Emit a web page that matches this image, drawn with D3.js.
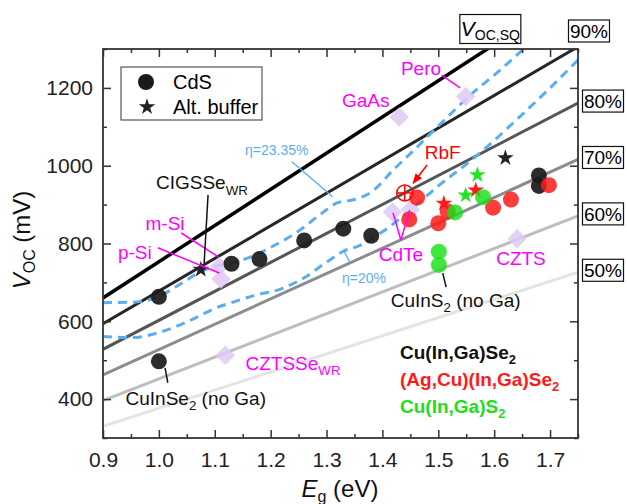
<!DOCTYPE html>
<html>
<head>
<meta charset="utf-8">
<script src="https://cdn.jsdelivr.net/npm/d3@7"></script>
<style>
  body { margin: 0; background: #fff; }
  text { font-family: "Liberation Sans", Arial, sans-serif; }
</style>
</head>
<body>
<svg id="chart" width="627" height="504"></svg>
<script>
// ---- data ----
// Voc limit lines: Voc,SQ and fractions of it, endpoints at Eg = 0.9 and 1.75 eV
const limitE = [0.9, 1.75];
const limitNames = ["SQ", "90%", "80%", "70%", "60%", "50%"];
const limitStartV = [660, 594, 528, 462, 396, 330];
const limitEndV = [1451, 1306, 1161, 1016, 871, 726];

// iso-efficiency curves
const etaHighE = [0.90, 0.95, 0.98, 1.00, 1.04, 1.075, 1.10, 1.13, 1.16, 1.20, 1.25, 1.29, 1.32, 1.35, 1.38, 1.42, 1.46, 1.50, 1.56, 1.61, 1.66];
const etaHighV = [648, 649, 654, 664, 697, 728, 741, 750, 763, 790, 832, 876, 905, 913, 932, 990, 1045, 1102, 1185, 1245, 1310];
const etaLowE = [0.90, 0.95, 1.00, 1.04, 1.07, 1.10, 1.13, 1.17, 1.22, 1.26, 1.30, 1.33, 1.36, 1.40, 1.45, 1.50, 1.56, 1.60, 1.64, 1.70, 1.75];
const etaLowV = [561, 558, 571, 592, 612, 633, 648, 666, 684, 712, 752, 780, 795, 830, 886, 948, 1015, 1065, 1118, 1200, 1272];

// Cu(In,Ga)Se2, CdS buffer
const cigseE = [1.00, 1.00, 1.13, 1.18, 1.26, 1.33, 1.38, 1.68, 1.68];
const cigseV = [663, 497, 748, 760, 808, 838, 820, 975, 948];
// Cu(In,Ga)Se2, alternative buffer
const cigseAltE = [1.075, 1.62];
const cigseAltV = [733, 1020];
// (Ag,Cu)(In,Ga)Se2
const acigsE = [1.462, 1.448, 1.50, 1.517, 1.598, 1.630, 1.698];
const acigsV = [918, 862, 852, 882, 892, 913, 950];
const acigsAltE = [1.510, 1.567];
const acigsAltV = [903, 937];
const rbfE = [1.44];
const rbfV = [930];
// Cu(In,Ga)S2
const cigsE = [1.530, 1.580, 1.501, 1.501];
const cigsV = [880, 919, 779, 745];
const cigsAltE = [1.570, 1.549];
const cigsAltV = [976, 924];
// other technologies
const otherNames = ["GaAs", "Pero", "m-Si", "p-Si", "CdTe", "CdTe", "CZTS", "CZTSSe"];
const otherE = [1.43, 1.549, 1.108, 1.111, 1.418, 1.450, 1.641, 1.119];
const otherV = [1125, 1178, 741, 709, 881, 887, 812, 513];

const xMajor = [0.9, 1.0, 1.1, 1.2, 1.3, 1.4, 1.5, 1.6, 1.7];
const xMinor = [0.95, 1.05, 1.15, 1.25, 1.35, 1.45, 1.55, 1.65, 1.75];
const yMajor = [400, 600, 800, 1000, 1200];
const yMinor = [300, 500, 700, 900, 1100, 1300];

// ---- setup ----
let svg = d3.select("#chart");
const x = d3.scaleLinear().domain([0.9, 1.75]).range([103, 578]);
const y = d3.scaleLinear().domain([300, 1300]).range([438, 49]);
const axisColor = "#333";

let defs = svg.append("defs");
defs.append("clipPath").attr("id", "plotClip").append("rect")
    .attr("x", 103).attr("y", 49).attr("width", 475).attr("height", 389);
defs.append("marker").attr("id", "arrowRed")
    .attr("viewBox", "0 0 10 10").attr("refX", 9).attr("refY", 5)
    .attr("markerWidth", 7).attr("markerHeight", 7).attr("orient", "auto")
    .append("path").attr("d", "M0,1 L10,5 L0,9 Z").attr("fill", "red");

//? limit lines
const limitColors = ["#000", "#262626", "#555", "#8c8c8c", "#bebebe", "#e4e4e4"];
let lines = svg.append("g").attr("clip-path", "url(#plotClip)");
for (let i = limitNames.length - 1; i >= 0; i--) {
    lines.append("line")
        .attr("x1", x(limitE[0])).attr("y1", y(limitStartV[i]))
        .attr("x2", x(limitE[1])).attr("y2", y(limitEndV[i]))
        .attr("stroke", limitColors[i])
        .attr("stroke-width", i === 0 ? 3.5 : 3);
}

//? dashed iso-efficiency curves
let dashLine = d3.line().x(d => x(d[0])).y(d => y(d[1])).curve(d3.curveMonotoneX);
[[etaHighE, etaHighV], [etaLowE, etaLowV]].forEach(function (c) {
    lines.append("path")
        .attr("d", dashLine(c[0].map((e, i) => [e, c[1][i]])))
        .attr("fill", "none")
        .attr("stroke", "#5aaef0")
        .attr("stroke-width", 3)
        .attr("stroke-dasharray", "9,6");
});

//? axes (ticks pointing inward)
function styleAxis(g) {
    g.select(".domain").remove();
    g.selectAll(".tick line").attr("stroke", axisColor).attr("stroke-width", 1.5);
    g.selectAll(".tick text").attr("fill", "#222").style("font-size", "21px")
        .style("font-family", "'Liberation Sans', Arial, sans-serif");
}
svg.append("g").attr("transform", "translate(0,438)")
    .call(d3.axisBottom(x).tickValues(xMajor).tickSize(-8).tickPadding(14).tickFormat(d3.format(".1f")))
    .call(styleAxis);
svg.append("g").attr("transform", "translate(0,438)")
    .call(d3.axisBottom(x).tickValues(xMinor).tickSize(-4).tickFormat(""))
    .call(styleAxis);
svg.append("g").attr("transform", "translate(0,49)")
    .call(d3.axisTop(x).tickValues(xMajor).tickSize(-8).tickFormat(""))
    .call(styleAxis);
svg.append("g").attr("transform", "translate(0,49)")
    .call(d3.axisTop(x).tickValues(xMinor).tickSize(-4).tickFormat(""))
    .call(styleAxis);
svg.append("g").attr("transform", "translate(103,0)")
    .call(d3.axisLeft(y).tickValues(yMajor).tickSize(-8).tickPadding(10).tickFormat(d3.format("d")))
    .call(styleAxis);
svg.append("g").attr("transform", "translate(103,0)")
    .call(d3.axisLeft(y).tickValues(yMinor).tickSize(-4).tickFormat(""))
    .call(styleAxis);
svg.append("g").attr("transform", "translate(578,0)")
    .call(d3.axisRight(y).tickValues(yMajor).tickSize(-8).tickFormat(""))
    .call(styleAxis);
svg.append("g").attr("transform", "translate(578,0)")
    .call(d3.axisRight(y).tickValues(yMinor).tickSize(-4).tickFormat(""))
    .call(styleAxis);

svg.append("rect").attr("x", 103).attr("y", 49).attr("width", 475).attr("height", 389)
    .attr("fill", "none").attr("stroke", axisColor).attr("stroke-width", 1.8);

//? axis titles
let yTitle = svg.append("text").attr("transform", "translate(30,240) rotate(-90)")
    .attr("text-anchor", "middle").style("font-size", "24px").attr("fill", "#111");
yTitle.append("tspan").style("font-style", "italic").text("V");
yTitle.append("tspan").attr("dy", 5).style("font-size", "16px").text("OC");
yTitle.append("tspan").attr("dy", -5).text(" (mV)");

let xTitle = svg.append("text").attr("x", 340).attr("y", 497)
    .attr("text-anchor", "middle").style("font-size", "24px").attr("fill", "#111");
xTitle.append("tspan").style("font-style", "italic").text("E");
xTitle.append("tspan").attr("dy", 5).style("font-size", "16px").text("g");
xTitle.append("tspan").attr("dy", -5).text(" (eV)");

//? line labels outside the frame
function labelBox(cx, cy, w, h) {
    return svg.append("rect").attr("x", cx - w / 2).attr("y", cy - h / 2)
        .attr("width", w).attr("height", h)
        .attr("fill", "#fff").attr("stroke", "#111").attr("stroke-width", 1.2);
}
let eTop = limitE[0] + (1300 - limitStartV[0]) / (limitEndV[0] - limitStartV[0]) * (limitE[1] - limitE[0]);
labelBox(x(eTop) + 3, 29, 61, 29);
let sqText = svg.append("text").attr("x", x(eTop) + 3).attr("y", 36)
    .attr("text-anchor", "middle").style("font-size", "21px");
sqText.append("tspan").style("font-style", "italic").text("V");
sqText.append("tspan").attr("dy", 4).style("font-size", "14px").text("OC,SQ");

for (let i = 1; i < limitNames.length; i++) {
    let cx = i === 1 ? 589 : 603;
    let cy = i === 1 ? 31 : y(limitEndV[i]) - 2;
    labelBox(cx, cy, 41, 22);
    svg.append("text").attr("x", cx).attr("y", cy).attr("dy", "0.35em")
        .attr("text-anchor", "middle").style("font-size", "19px").text(limitNames[i]);
}

//? markers
let marks = svg.append("g");
let diamond = d3.symbol().type(d3.symbolSquare).size(190);
marks.selectAll(".other").data(otherE).enter().append("path")
    .attr("d", diamond)
    .attr("transform", (d, i) => `translate(${x(d)},${y(otherV[i])}) rotate(45)`)
    .attr("fill", "#dfc9f3").attr("fill-opacity", 0.85);

function dots(es, vs, color, op) {
    marks.append("g").selectAll("circle").data(es).enter().append("circle")
        .attr("cx", d => x(d)).attr("cy", (d, i) => y(vs[i])).attr("r", 8)
        .attr("fill", color).attr("fill-opacity", op);
}
function stars(es, vs, color) {
    marks.append("g").selectAll("path").data(es).enter().append("path")
        .attr("d", d3.symbol().type(d3.symbolStar).size(85))
        .attr("transform", (d, i) => `translate(${x(d)},${y(vs[i])})`)
        .attr("fill", color);
}
dots(cigseE, cigseV, "#1a1a1a", 0.92);
dots(acigsE, acigsV, "#ff1a1a", 0.85);
stars(acigsAltE, acigsAltV, "#ff1a1a");
dots(cigsE, cigsV, "#19e019", 0.82);
stars(cigsAltE, cigsAltV, "#22e622");
stars(cigseAltE, cigseAltV, "#222");

// RbF marker: open circle with crosshair
rbfE.forEach(function (e, i) {
    let cx = x(e), cy = y(rbfV[i]);
    marks.append("circle").attr("cx", cx).attr("cy", cy).attr("r", 8)
        .attr("fill", "none").attr("stroke", "red").attr("stroke-width", 1.5);
    marks.append("line").attr("x1", cx - 8).attr("x2", cx + 8).attr("y1", cy).attr("y2", cy)
        .attr("stroke", "red").attr("stroke-width", 1.5);
    marks.append("line").attr("x1", cx).attr("x2", cx).attr("y1", cy - 8).attr("y2", cy + 8)
        .attr("stroke", "red").attr("stroke-width", 1.5);
});

//? annotations
let ann = svg.append("g");
function label(e, v, txt, color, size, subTxt) {
    let t = ann.append("text").attr("x", x(e)).attr("y", y(v)).attr("dy", "0.35em")
        .attr("text-anchor", "middle").attr("fill", color).style("font-size", size + "px");
    t.append("tspan").text(txt);
    if (subTxt) {
        t.append("tspan").attr("dy", size * 0.3).style("font-size", (size * 0.7) + "px").text(subTxt[0]);
        if (subTxt[1]) t.append("tspan").attr("dy", -size * 0.3).text(subTxt[1]);
    }
    return t;
}
function pointer(e1, v1, e2, v2, color, w) {
    return ann.append("line").attr("x1", x(e1)).attr("y1", y(v1)).attr("x2", x(e2)).attr("y2", y(v2))
        .attr("stroke", color).attr("stroke-width", w || 1.5);
}
const magenta = "#ff00ff";
label(1.370, 1169, "GaAs", magenta, 19);
label(1.469, 1251, "Pero", magenta, 19);
pointer(1.506, 1233, 1.539, 1200, magenta);
label(1.011, 853, "m-Si", magenta, 19);
pointer(1.040, 827, 1.106, 766, magenta);
label(0.957, 778, "p-Si", magenta, 19);
pointer(0.998, 789, 1.108, 724, magenta);
label(1.433, 771, "CdTe", magenta, 19);
pointer(1.433, 809, 1.419, 879, magenta);
pointer(1.433, 809, 1.449, 886, magenta);
label(1.648, 763, "CZTS", magenta, 19);
label(1.240, 493, "CZTSSe", magenta, 19, ["WR"]);

label(1.077, 956, "CIGSSe", "#111", 19, ["WR"]);
pointer(1.088, 925, 1.081, 750, "#111");
label(1.066, 403, "CuInSe", "#111", 19, ["2", " (no Ga)"]);
pointer(1.011, 480, 1.016, 442, "#111");
label(1.531, 655, "CuInS", "#111", 19, ["2", " (no Ga)"]);
pointer(1.508, 724, 1.514, 688, "#111");

label(1.508, 1035, "RbF", "red", 19);
pointer(1.480, 1002, 1.455, 955, "red").attr("marker-end", "url(#arrowRed)");

label(1.211, 1041, "\u03b7=23.35%", "#5aaef0", 14);
pointer(1.238, 1010, 1.311, 920, "#5aaef0", 1.3);
label(1.367, 712, "\u03b7=20%", "#5aaef0", 14);
pointer(1.342, 750, 1.331, 781, "#5aaef0", 1.3);

//? buffer legend
let legend = svg.append("g");
legend.append("rect").attr("x", 121).attr("y", 67).attr("width", 141).attr("height", 53)
    .attr("fill", "#fff").attr("stroke", "#555").attr("stroke-width", 1.2);
legend.append("circle").attr("cx", 146).attr("cy", 82).attr("r", 8).attr("fill", "#1a1a1a");
legend.append("path").attr("d", d3.symbol().type(d3.symbolStar).size(85)())
    .attr("transform", "translate(147,107)").attr("fill", "#222");
legend.append("text").attr("x", 173).attr("y", 82).attr("dy", "0.35em").style("font-size", "20px").text("CdS");
legend.append("text").attr("x", 173).attr("y", 107).attr("dy", "0.35em").style("font-size", "20px").text("Alt. buffer");

//? material legend
const matNames = [["Cu(In,Ga)Se", "2"], ["(Ag,Cu)(In,Ga)Se", "2"], ["Cu(In,Ga)S", "2"]];
const matColors = ["#111", "#ff1a1a", "#19e019"];
matNames.forEach(function (m, i) {
    let t = svg.append("text").attr("x", 400).attr("y", 359 + i * 27)
        .attr("fill", matColors[i]).style("font-size", "19px").style("font-weight", "bold");
    t.append("tspan").text(m[0]);
    t.append("tspan").attr("dy", 5).style("font-size", "13px").text(m[1]);
});
</script>
</body>
</html>
